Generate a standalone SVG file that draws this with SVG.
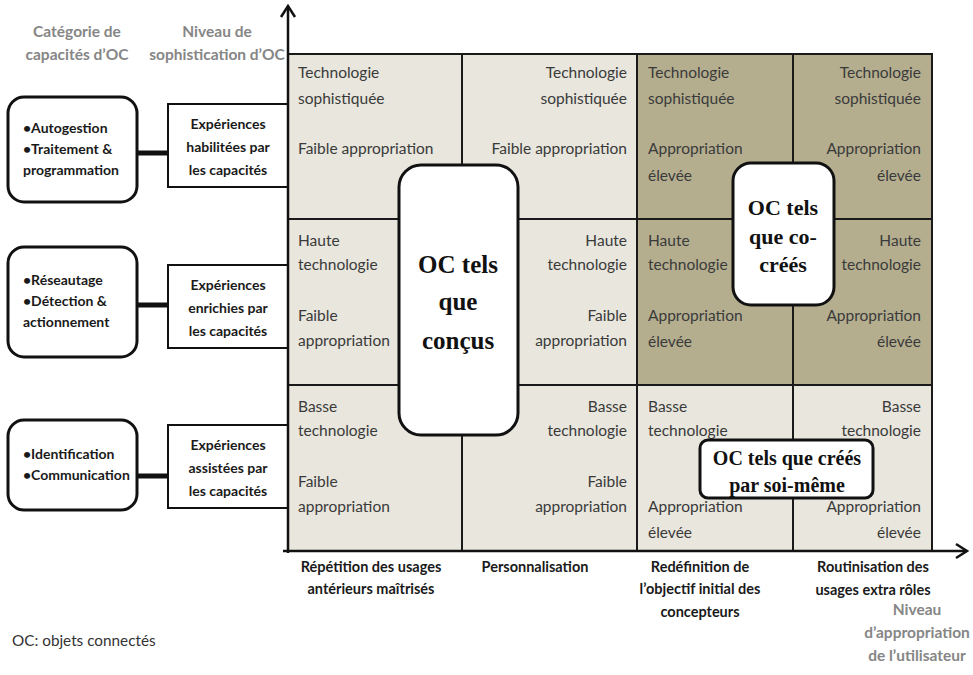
<svg xmlns="http://www.w3.org/2000/svg" width="973" height="675" viewBox="0 0 973 675">
<style>
.bg{fill:#ffffff}
.light{fill:#e8e6dd}
.dark{fill:#b4ae8f}
.grid{stroke:#1a1a1a;stroke-width:2;fill:none}
.cell{font-family:Lato,"Open Sans",sans-serif;font-size:15.5px;fill:#3a3a3a}
.r{text-anchor:end}
.hdr{font-family:Lato,"Open Sans",sans-serif;font-size:15.5px;font-weight:bold;fill:#868686;text-anchor:middle}
.lbl{font-family:Lato,"Open Sans",sans-serif;font-size:14px;font-weight:bold;fill:#1a1a1a}
.xl{font-size:14.5px}
.mid{text-anchor:middle}
.rbox{fill:#ffffff;stroke:#111;stroke-width:3}
.sbox{fill:#ffffff;stroke:#111;stroke-width:2}
.ov{fill:#ffffff;stroke:#111;stroke-width:3}
.ovt{font-family:"Liberation Serif","Times New Roman",serif;font-weight:bold;fill:#111;text-anchor:middle}
.axis{stroke:#111;stroke-width:2.5;fill:none}
.link{stroke:#111;stroke-width:5}
.note{font-family:Lato,"Open Sans",sans-serif;font-size:15.3px;fill:#333}
</style>
<rect class="bg" x="0" y="0" width="973" height="675"/>

<g id="headers">
<text class="hdr" x="77" y="37">Catégorie de</text>
<text class="hdr" x="77" y="60">capacités d’OC</text>
<text class="hdr" x="217" y="37">Niveau de</text>
<text class="hdr" x="217" y="60">sophistication d’OC</text>
</g>

<g id="grid">
<rect class="light" x="288" y="54" width="349" height="497"/>
<rect class="dark" x="637" y="54" width="295" height="331"/>
<rect class="light" x="637" y="385" width="295" height="166"/>
<rect class="grid" x="288" y="54" width="644" height="497"/>
<line class="grid" x1="288" y1="219" x2="932" y2="219"/>
<line class="grid" x1="288" y1="385" x2="932" y2="385"/>
<line class="grid" x1="462" y1="54" x2="462" y2="551"/>
<line class="grid" x1="637" y1="54" x2="637" y2="551"/>
<line class="grid" x1="793" y1="54" x2="793" y2="551"/>
</g>

<g id="cells-text">
<text class="cell" x="298" y="78">Technologie</text>
<text class="cell" x="298" y="104">sophistiquée</text>
<text class="cell" x="298" y="154">Faible appropriation</text>
<text class="cell r" x="627" y="78">Technologie</text>
<text class="cell r" x="627" y="104">sophistiquée</text>
<text class="cell r" x="627" y="154">Faible appropriation</text>
<text class="cell" x="648" y="78">Technologie</text>
<text class="cell" x="648" y="104">sophistiquée</text>
<text class="cell" x="648" y="154">Appropriation</text>
<text class="cell" x="648" y="181">élevée</text>
<text class="cell r" x="921" y="78">Technologie</text>
<text class="cell r" x="921" y="104">sophistiquée</text>
<text class="cell r" x="921" y="154">Appropriation</text>
<text class="cell r" x="921" y="181">élevée</text>

<text class="cell" x="298" y="246">Haute</text>
<text class="cell" x="298" y="270">technologie</text>
<text class="cell" x="298" y="321">Faible</text>
<text class="cell" x="298" y="346">appropriation</text>
<text class="cell r" x="627" y="246">Haute</text>
<text class="cell r" x="627" y="270">technologie</text>
<text class="cell r" x="627" y="321">Faible</text>
<text class="cell r" x="627" y="346">appropriation</text>
<text class="cell" x="648" y="246">Haute</text>
<text class="cell" x="648" y="270">technologie</text>
<text class="cell" x="648" y="321">Appropriation</text>
<text class="cell" x="648" y="347">élevée</text>
<text class="cell r" x="921" y="246">Haute</text>
<text class="cell r" x="921" y="270">technologie</text>
<text class="cell r" x="921" y="321">Appropriation</text>
<text class="cell r" x="921" y="347">élevée</text>

<text class="cell" x="298" y="412">Basse</text>
<text class="cell" x="298" y="436">technologie</text>
<text class="cell" x="298" y="487">Faible</text>
<text class="cell" x="298" y="512">appropriation</text>
<text class="cell r" x="627" y="412">Basse</text>
<text class="cell r" x="627" y="436">technologie</text>
<text class="cell r" x="627" y="487">Faible</text>
<text class="cell r" x="627" y="512">appropriation</text>
<text class="cell" x="648" y="412">Basse</text>
<text class="cell" x="648" y="436">technologie</text>
<text class="cell" x="648" y="512">Appropriation</text>
<text class="cell" x="648" y="538">élevée</text>
<text class="cell r" x="921" y="412">Basse</text>
<text class="cell r" x="921" y="436">technologie</text>
<text class="cell r" x="921" y="512">Appropriation</text>
<text class="cell r" x="921" y="538">élevée</text>
</g>

<g id="connectors">
<line class="link" x1="137" y1="153" x2="168" y2="153"/>
<line class="link" x1="137" y1="305" x2="168" y2="305"/>
<line class="link" x1="137" y1="476" x2="168" y2="476"/>
</g>

<g id="cat1">
<rect class="rbox" x="8" y="97" width="129" height="105" rx="16"/>
<text class="lbl" x="23" y="133">•Autogestion</text>
<text class="lbl" x="23" y="154">•Traitement &amp;</text>
<text class="lbl" x="23" y="175">programmation</text>
</g>
<g id="cat2">
<rect class="rbox" x="8" y="247" width="129" height="110" rx="16"/>
<text class="lbl" x="23" y="285">•Réseautage</text>
<text class="lbl" x="23" y="306">•Détection &amp;</text>
<text class="lbl" x="23" y="327">actionnement</text>
</g>
<g id="cat3">
<rect class="rbox" x="8" y="420" width="129" height="90" rx="16"/>
<text class="lbl" x="23" y="459">•Identification</text>
<text class="lbl" x="23" y="480">•Communication</text>
</g>

<g id="exp1">
<rect class="sbox" x="168" y="104" width="120" height="83"/>
<text class="lbl mid" x="228" y="129">Expériences</text>
<text class="lbl mid" x="228" y="152">habilitées par</text>
<text class="lbl mid" x="228" y="175">les capacités</text>
</g>
<g id="exp2">
<rect class="sbox" x="168" y="265" width="120" height="83"/>
<text class="lbl mid" x="228" y="290">Expériences</text>
<text class="lbl mid" x="228" y="313">enrichies par</text>
<text class="lbl mid" x="228" y="336">les capacités</text>
</g>
<g id="exp3">
<rect class="sbox" x="168" y="425" width="120" height="83"/>
<text class="lbl mid" x="228" y="450">Expériences</text>
<text class="lbl mid" x="228" y="473">assistées par</text>
<text class="lbl mid" x="228" y="496">les capacités</text>
</g>

<g id="axes">
<line class="axis" x1="288" y1="553" x2="288" y2="6"/>
<polyline class="axis" points="281,17 288,6 295,17"/>
<line class="axis" x1="283" y1="551" x2="967" y2="551"/>
<polyline class="axis" points="956,544 967,551 956,558"/>
</g>

<g id="oc-concus">
<rect class="ov" x="399" y="165" width="119" height="270" rx="22"/>
<text class="ovt" x="458" y="273" font-size="25">OC tels</text>
<text class="ovt" x="458" y="310" font-size="25">que</text>
<text class="ovt" x="458" y="349" font-size="25">conçus</text>
</g>

<g id="oc-cocrees">
<rect class="ov" x="733" y="163" width="101" height="142" rx="18"/>
<text class="ovt" x="783" y="215" font-size="22">OC tels</text>
<text class="ovt" x="783" y="244" font-size="22">que co-</text>
<text class="ovt" x="783" y="272" font-size="22">créés</text>
</g>

<g id="oc-soimeme">
<rect class="ov" x="700" y="440" width="173" height="58" rx="8"/>
<text class="ovt" x="787" y="465" font-size="20">OC tels que créés</text>
<text class="ovt" x="787" y="492" font-size="20">par soi-même</text>
</g>

<g id="x-labels">
<text class="lbl xl mid" x="371" y="572">Répétition des usages</text>
<text class="lbl xl mid" x="371" y="594">antérieurs maîtrisés</text>
<text class="lbl xl mid" x="535" y="572">Personnalisation</text>
<text class="lbl xl mid" x="700" y="572">Redéfinition de</text>
<text class="lbl xl mid" x="700" y="594">l’objectif initial des</text>
<text class="lbl xl mid" x="700" y="617">concepteurs</text>
<text class="lbl xl mid" x="873" y="572">Routinisation des</text>
<text class="lbl xl mid" x="873" y="595">usages extra rôles</text>
<text class="hdr" x="917" y="615">Niveau</text>
<text class="hdr" x="917" y="638">d’appropriation</text>
<text class="hdr" x="917" y="661">de l’utilisateur</text>
</g>

<text class="note" x="12" y="646">OC: objets connectés</text>
</svg>
